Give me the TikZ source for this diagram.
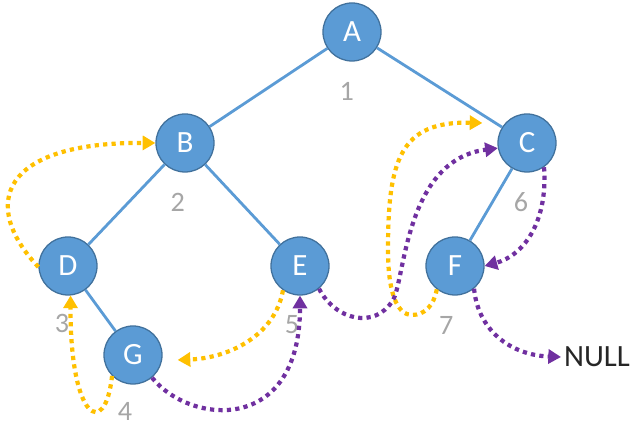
\documentclass[tikz,border=0pt]{standalone}
\usepackage{fontspec}
\setmainfont{Carlito}
\usepackage{xcolor}
\usepackage{tikz}
\usetikzlibrary{positioning,arrows.meta,calc}
\definecolor{nodeblue}{HTML}{5B9BD5}
\definecolor{rimblue}{HTML}{41719C}
\definecolor{predgold}{HTML}{FFC000}
\definecolor{succpurple}{HTML}{7030A0}
\definecolor{ordgrey}{HTML}{A6A6A6}

\begin{document}
\begin{tikzpicture}[
    x=0.025cm, y=-0.025cm,
    vert/.style={
      circle, draw=rimblue, fill=nodeblue, line width=0.9pt,
      minimum size=1.45cm, inner sep=0pt, text=white,
      font=\fontsize{22}{22}\selectfont
    },
    tedge/.style={draw=nodeblue, line width=2pt},
    ord/.style={font=\fontsize{20}{20}\selectfont, text=ordgrey, inner sep=0pt},
    thread/.style={line width=3pt, dash pattern=on 3pt off 3pt,
      -{Triangle[length=9pt,width=10pt]}},
    pred/.style={thread, predgold},
    succ/.style={thread, succpurple}
  ]
  \useasboundingbox (0,0) rectangle (640,438);

  % ---------- arbre binaire ---------------------------------------------
  \node[vert] (a) at (352,32)  {A};
  \node[vert] (b) at (185,143) {B};
  \node[vert] (c) at (527,143) {C};
  \node[vert] (d) at (68,266)  {D};
  \node[vert] (e) at (300,266) {E};
  \node[vert] (f) at (455,266) {F};
  \node[vert] (g) at (133,355) {G};

  \draw[tedge] (a) -- (b);
  \draw[tedge] (a) -- (c);
  \draw[tedge] (b) -- (d);
  \draw[tedge] (b) -- (e);
  \draw[tedge] (c) -- (f);
  \draw[tedge] (d) -- (g);

  % ---------- ordre du parcours -----------------------------------------
  \node[ord, below=0.5cm of a, xshift=-0.13cm] (n1) {1};
  \node[ord, below=0.5cm of b, xshift=-0.18cm] (n2) {2};
  \node[ord, below=0.45cm of d, xshift=-0.15cm] (n3) {3};
  \node[ord, below=0.45cm of g, xshift=-0.2cm] (n4) {4};
  \node[ord, below=0.5cm of e, xshift=-0.2cm] (n5) {5};
  \node[ord, below=0.5cm of c, xshift=-0.15cm] (n6) {6};
  \node[ord, below=0.52cm of f, xshift=-0.22cm] (n7) {7};

  \node[font=\fontsize{22}{22}\selectfont, text=black!85, inner sep=2pt]
    (null) at (597,357) {NULL};

  \coordinate (gin) at ($(g.east)+(15,5)$);
  \coordinate (cin) at ($(c.west)+(-15,-20)$);

  % ---------- fils gauches vides : predecesseurs ------------------------
  \draw[pred] (d.182) .. controls (-20,205) and (0,142) .. (b.west);
  \draw[pred] (g.225) .. controls (105,440) and (70,420) .. (d.275);
  \draw[pred] (e.235) .. controls (275,335) and (230,358) .. (gin);
  \draw[pred] (f.232) .. controls (434,305) and (425,315) .. (412,315)
    .. controls (398,315) and (388,295) .. (388,250)
    .. controls (388,160) and (400,121) .. (cin);

  % ---------- fils droits vides : successeurs ---------------------------
  \draw[succ] (g.310) .. controls (190,425) and (300,435) .. (e.south);
  \draw[succ] (e.310) .. controls (335,320) and (375,330) .. (393,300)
    .. controls (405,280) and (405,160) .. (c.190);
  \draw[succ] (c.305) .. controls (548,220) and (525,255) .. (f.east);
  \draw[succ] (f.310) .. controls (478,330) and (510,355) .. (null.west);

\end{tikzpicture}
\end{document}
